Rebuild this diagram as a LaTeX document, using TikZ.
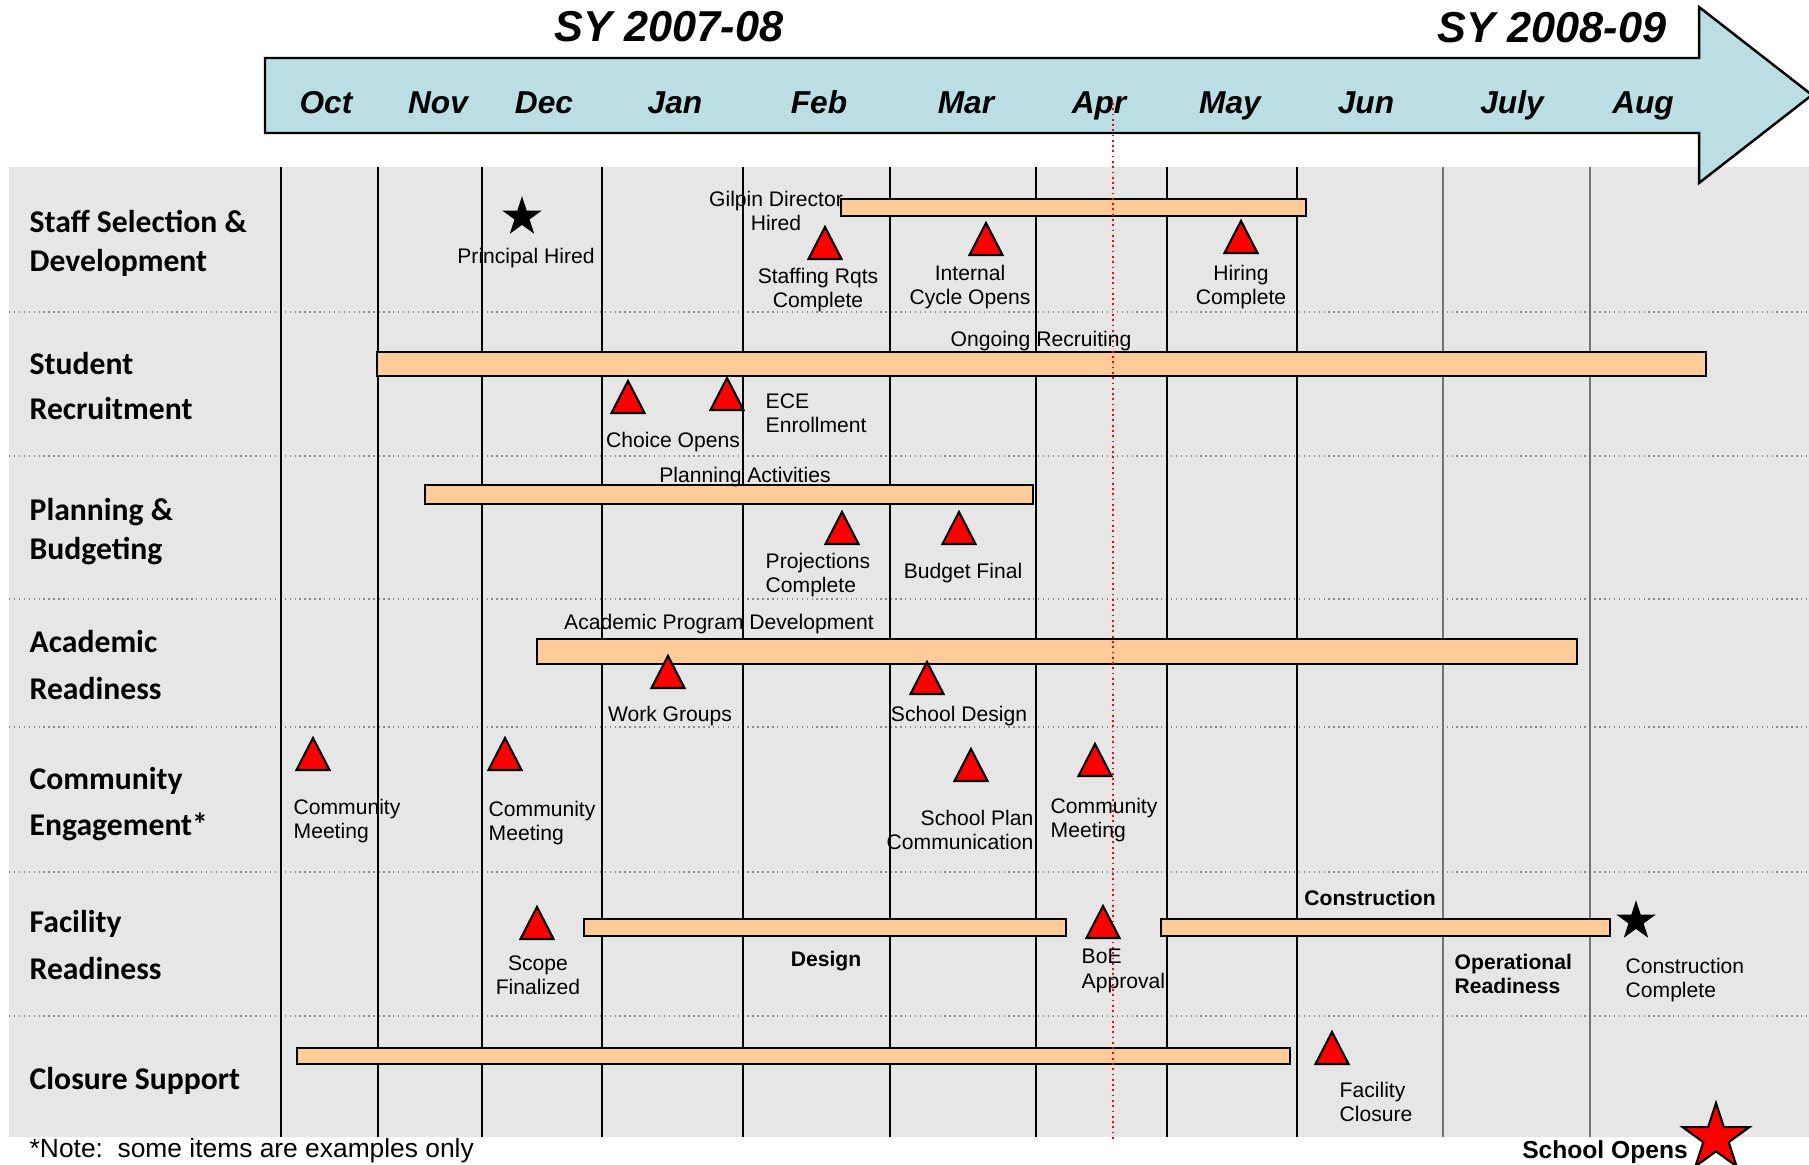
\documentclass[tikz,border=0pt]{standalone}
\usepackage{fontspec}
\setmainfont{Liberation Sans}
\newfontfamily\headfont{Carlito}
\usetikzlibrary{shapes.geometric}
\definecolor{bggrey}{HTML}{E6E6E6}
\definecolor{arrowblue}{HTML}{BADEE3}
\definecolor{barfill}{HTML}{FFCC99}

\begin{document}
\begin{tikzpicture}[x=0.01cm, y=-0.01cm,
    rowhead/.style={anchor=west, align=left, inner sep=0pt, font=\headfont\bfseries\fontsize{9}{11.1}\selectfont},
    month/.style={anchor=base, inner sep=0pt, font=\bfseries\itshape\fontsize{9}{10.8}\selectfont},
    yearlbl/.style={anchor=base, inner sep=0pt, font=\bfseries\itshape\fontsize{12.3}{14}\selectfont},
    lbl/.style={align=center, inner sep=0pt, font=\fontsize{6}{6.9}\selectfont},
    blbl/.style={lbl, font=\bfseries\fontsize{6}{6.9}\selectfont},
    taskbar/.style={draw, line width=0.7pt, fill=barfill},
    mile/.style={draw, line width=0.6pt, fill=red, line join=miter},
    starmark/.style={star, star points=5, star point ratio=2.618, draw, inner sep=0pt},
    monthline/.style={line width=0.4pt},
    divider/.style={densely dotted, line width=0.4pt, black!45}
]
\useasboundingbox (0,0) rectangle (1809,1165);

% Background and rows
\fill[bggrey] (9,167) rectangle (1809,1137);
\draw[divider] (9,312) -- (1809,312);
\draw[divider] (9,456) -- (1809,456);
\draw[divider] (9,599) -- (1809,599);
\draw[divider] (9,727) -- (1809,727);
\draw[divider] (9,872) -- (1809,872);
\draw[divider] (9,1016) -- (1809,1016);

% Month lines
\draw[monthline] (281,167) -- (281,1137);
\draw[monthline] (378,167) -- (378,1137);
\draw[monthline] (482,167) -- (482,1137);
\draw[monthline] (602,167) -- (602,1137);
\draw[monthline] (743,167) -- (743,1137);
\draw[monthline] (890,167) -- (890,1137);
\draw[monthline] (1036,167) -- (1036,1137);
\draw[monthline] (1167,167) -- (1167,1137);
\draw[monthline] (1297,167) -- (1297,1137);
\draw[monthline, black!55] (1443,167) -- (1443,1137);
\draw[monthline, black!55] (1590,167) -- (1590,1137);

% Timeline arrow
\draw[line width=0.7pt, fill=arrowblue] (265,58) -- (1699,58) -- (1699,7) -- (1812,95)
    -- (1699,183) -- (1699,133) -- (265,133) -- cycle;
\node[yearlbl] (sy0708) at (669,42) {SY 2007-08};
\node[yearlbl] (sy0809) at (1552,43) {SY 2008-09};
\node[month] (oct) at (326,114) {Oct};
\node[month] (nov) at (438,114) {Nov};
\node[month] (dec) at (544,114) {Dec};
\node[month] (jan) at (675,114) {Jan};
\node[month] (feb) at (819,114) {Feb};
\node[month] (mar) at (966,114) {Mar};
\node[month] (apr) at (1099,114) {Apr};
\node[month] (may) at (1230,114) {May};
\node[month] (jun) at (1366,114) {Jun};
\node[month] (jul) at (1512,114) {July};
\node[month] (aug) at (1643,114) {Aug};

% Row headings
\node[rowhead] (staffhead) at (29,243) {Staff Selection \&\\Development};
\node[rowhead] (studenthead) at (29,386) {Student\\[1.7pt]Recruitment};
\node[rowhead] (planhead) at (29,532) {Planning \&\\Budgeting};
\node[rowhead] (acadhead) at (29,665) {Academic\\[2.3pt]Readiness};
\node[rowhead] (commhead) at (29,804) {Community\\[2pt]Engagement*};
\node[rowhead] (facilhead) at (29,945) {Facility\\[2.3pt]Readiness};
\node[rowhead, anchor=base west] (closurehead) at (29,1090) {Closure Support};

% Bars
\draw[taskbar] (841,199) rectangle (1306,216);
\draw[taskbar] (377,352) rectangle (1706,376);
\draw[taskbar] (425,485) rectangle (1033,504);
\draw[taskbar] (537,639) rectangle (1577,664);
\draw[taskbar] (584,919) rectangle (1066,936);
\draw[taskbar] (1161,919) rectangle (1610,936);
\draw[taskbar] (297,1048) rectangle (1290,1064);

% Today line
\draw[red, densely dotted, line width=0.5pt] (1113,103) -- (1113,1141);

% Milestones
\draw[mile] (825,227) -- ++(16.5,32) -- ++(-33,0) -- cycle;
\draw[mile] (986,223) -- ++(16.5,32) -- ++(-33,0) -- cycle;
\draw[mile] (1241,221) -- ++(16.5,32) -- ++(-33,0) -- cycle;
\draw[mile] (628,381) -- ++(16.5,32) -- ++(-33,0) -- cycle;
\draw[mile] (727,378) -- ++(16.5,32) -- ++(-33,0) -- cycle;
\draw[mile] (842,512) -- ++(16.5,32) -- ++(-33,0) -- cycle;
\draw[mile] (959,512) -- ++(16.5,32) -- ++(-33,0) -- cycle;
\draw[mile] (668,656) -- ++(16.5,32) -- ++(-33,0) -- cycle;
\draw[mile] (927,662) -- ++(16.5,32) -- ++(-33,0) -- cycle;
\draw[mile] (313,738) -- ++(16.5,32) -- ++(-33,0) -- cycle;
\draw[mile] (505,738) -- ++(16.5,32) -- ++(-33,0) -- cycle;
\draw[mile] (971,749) -- ++(16.5,32) -- ++(-33,0) -- cycle;
\draw[mile] (1095,744) -- ++(16.5,32) -- ++(-33,0) -- cycle;
\draw[mile] (537,907) -- ++(16.5,32) -- ++(-33,0) -- cycle;
\draw[mile] (1103,906) -- ++(16.5,32) -- ++(-33,0) -- cycle;
\draw[mile] (1332,1032) -- ++(16.5,32) -- ++(-33,0) -- cycle;

% Stars
\node[starmark, fill=black, minimum size=0.37cm] (principalstar) at (522,217) {};
\node[starmark, fill=black, minimum size=0.37cm] (constructstar) at (1636,921) {};
\node[starmark, fill=red, line width=0.6pt, minimum size=0.7cm] (opensstar) at (1716,1138) {};

% Labels
\node[lbl] (gilpin) at (776,211) {Gilpin Director\\Hired};
\node[lbl] (principal) at (526,258) {Principal Hired};
\node[lbl] (staffing) at (818,290) {Staffing Rqts\\Complete};
\node[lbl] (internal) at (970,287) {Internal\\Cycle Opens};
\node[lbl] (hiring) at (1241,287) {Hiring\\Complete};
\node[lbl] (ongoing) at (1041,341) {Ongoing Recruiting};
\node[lbl] (choice) at (673,442) {Choice Opens};
\node[lbl, anchor=west, align=left] (ece) at (765,413) {ECE\\Enrollment};
\node[lbl] (planact) at (745,477) {Planning Activities};
\node[lbl, anchor=west, align=left] (projections) at (765,575) {Projections\\Complete};
\node[lbl] (budget) at (963,573) {Budget Final};
\node[lbl] (acadev) at (719,624) {Academic Program Development};
\node[lbl] (workgroups) at (670,716) {Work Groups};
\node[lbl] (schooldesign) at (959,716) {School Design};
\node[lbl, anchor=west, align=left] (commmeet1) at (293,821) {Community\\Meeting};
\node[lbl, anchor=west, align=left] (commmeet2) at (488,823) {Community\\Meeting};
\node[lbl, anchor=east, align=right] (schoolplan) at (1034,830) {School Plan\\Communication};
\node[lbl, anchor=west, align=left] (commmeet3) at (1050,820) {Community\\Meeting};
\node[blbl] (construction) at (1370,898) {Construction};
\node[blbl] (design) at (826,961) {Design};
\node[lbl] (scope) at (538,975) {Scope\\Finalized};
\node[lbl, anchor=west, align=left] (boe) at (1081,971) {BoE\\Approval};
\node[blbl, anchor=west, align=left] (operational) at (1454,974) {Operational\\Readiness};
\node[lbl, anchor=west, align=left] (conscomplete) at (1625,980) {Construction\\Complete};
\node[lbl, anchor=west, align=left] (facclosure) at (1339,1102) {Facility\\Closure};
\node[blbl, font=\bfseries\fontsize{7}{8}\selectfont] (schoolopens) at (1605,1152) {School Opens};

% Footnote
\node[anchor=base west, inner sep=0pt, font=\fontsize{7.5}{9}\selectfont] (note) at (29,1158) {*Note:\ \ some items are examples only};

\end{tikzpicture}
\end{document}
